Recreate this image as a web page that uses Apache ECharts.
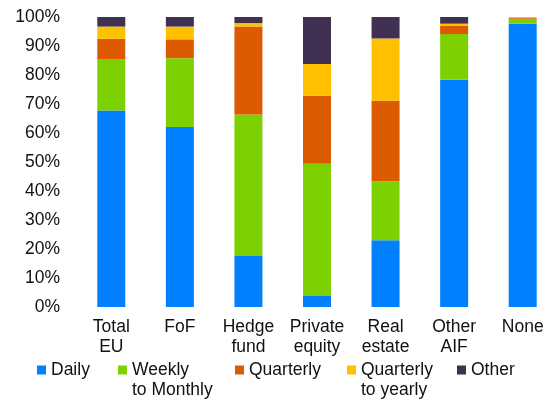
<!DOCTYPE html>
<html><head><meta charset="utf-8">
<script src="https://cdn.jsdelivr.net/npm/echarts@6/dist/echarts.min.js"></script>
<style>html,body{margin:0;padding:0;background:#fff}#c{width:557px;height:403px}</style>
</head><body><div id="c"></div>
<script>
const categories = ['Total\nEU', 'FoF', 'Hedge\nfund', 'Private\nequity', 'Real\nestate', 'Other\nAIF', 'None'];
const daily = [67.8, 62.1, 17.6, 4.0, 23.0, 78.4, 97.8];
const weeklyToMonthly = [17.6, 23.7, 48.8, 45.4, 20.4, 15.7, 1.6];
const quarterly = [7.1, 6.5, 30.3, 23.4, 27.7, 2.8, 0.3];
const quarterlyToYearly = [4.2, 4.4, 1.2, 11.0, 21.5, 0.8, 0.3];
const other = [3.3, 3.3, 2.1, 16.2, 7.4, 2.3, 0.0];
const yTicks = [0, 100, 10];

const seriesNames = ['Daily', 'Weekly\nto Monthly', 'Quarterly', 'Quarterly\nto yearly', 'Other'];
const seriesData = [daily, weeklyToMonthly, quarterly, quarterlyToYearly, other];
const colors = ['#0080ff', '#7dd100', '#dc5a00', '#ffc000', '#403152'];
const font = 'Liberation Sans, Arial, sans-serif';

const legendLeft = [37, 118, 235, 347, 457];
const legends = seriesNames.map((n, i) => {
  const two = n.indexOf('\n') >= 0;
  return {
    data: [n],
    left: legendLeft[i], top: two ? 340 : 360, padding: 0,
    itemWidth: 9, itemHeight: 9, icon: 'rect', selectedMode: false,
    formatter: two ? (name => ' \n' + name) : '{name}',
    textStyle: {fontFamily: font, fontSize: 17.5, color: '#111', lineHeight: 20}
  };
});

const chart = echarts.init(document.getElementById('c'), null, {renderer: 'canvas'});
chart.setOption({
  animation: false,
  color: colors,
  grid: {left: 77, top: 17, width: 489, height: 290},
  legend: legends,
  xAxis: {
    type: 'category', data: categories,
    axisLine: {show: false}, axisTick: {show: false},
    axisLabel: {margin: 10, fontFamily: font, fontSize: 17.5, color: '#111', lineHeight: 20, interval: 0}
  },
  yAxis: {
    type: 'value', min: yTicks[0], max: yTicks[1], interval: yTicks[2],
    axisLine: {show: false}, axisTick: {show: false}, splitLine: {show: false},
    axisLabel: {margin: 17, fontFamily: font, fontSize: 17.5, color: '#111', formatter: '{value}%'}
  },
  series: seriesNames.map((n, i) => ({
    name: n, type: 'bar', stack: 'total', barWidth: 28,
    data: seriesData[i]
  }))
});
</script></body></html>
